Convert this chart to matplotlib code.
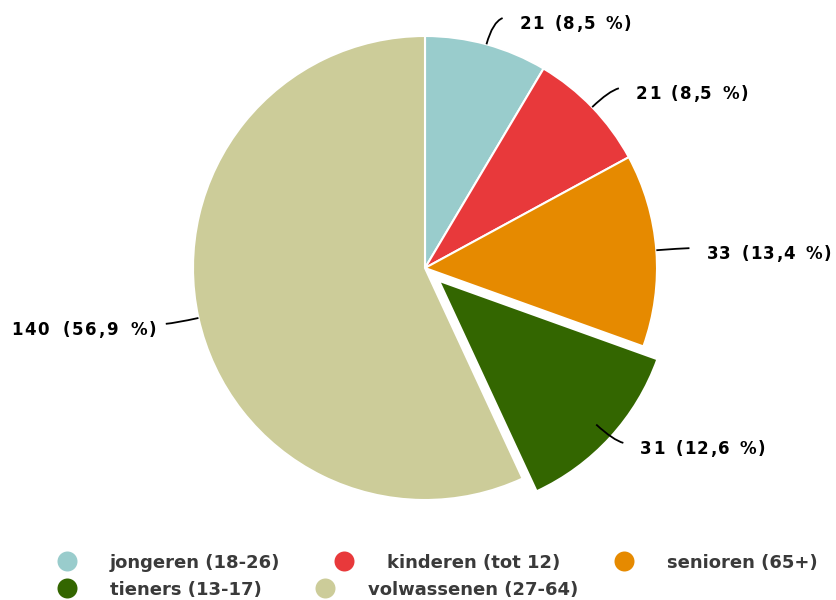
import numpy as np
import matplotlib
matplotlib.use("Agg")
import matplotlib.pyplot as plt
from matplotlib.path import Path
from matplotlib.patches import PathPatch
from matplotlib.font_manager import FontProperties
from matplotlib.textpath import TextToPath

categories = ["jongeren (18-26)", "kinderen (tot 12)", "senioren (65+)",
              "tieners (13-17)", "volwassenen (27-64)"]
values = [21, 21, 33, 31, 140]
colors = ["#99cccc", "#e8393b", "#e68a00", "#336600", "#cccc99"]
explode_px = [0, 0, 0, 19, 0]

W, H = 837, 600
fig = plt.figure(figsize=(W / 100, H / 100), dpi=100)
ax = fig.add_axes([0, 0, 1, 1])

cx, cy, r = 425, 332, 232
total = sum(values)

wedges, _ = ax.pie(values, colors=colors, startangle=90, counterclock=False,
                   radius=r, center=(cx, cy), explode=explode_px,
                   wedgeprops=dict(edgecolor="white", linewidth=1.5),
                   frame=True)
ax.set_xlim(0, W)
ax.set_ylim(0, H)
ax.set_aspect("equal")
ax.axis("off")

lab_prop = FontProperties(family="DejaVu Sans", weight="bold", size=12)
leg_prop = FontProperties(family="DejaVu Sans", weight="bold", size=13)
t2p = TextToPath()


def text_width(s, prop):
    if not s:
        return 0.0
    w, _, _ = t2p.get_text_width_height_descent(s, prop, ismath=False)
    return w * 100 / 72


def spaced_text(x, y, s, prop, align="left", track=1.0, space_extra=2.0):
    # draw a string char by char with extra letter spacing (pixel units)
    offs = [text_width(s[:k], prop) + k * track + s[:k].count(" ") * space_extra
            for k in range(len(s))]
    tot = text_width(s, prop) + (len(s) - 1) * track + s.count(" ") * space_extra
    x0 = x if align == "left" else x - tot
    for ch, o in zip(s, offs):
        if ch != " ":
            ax.text(x0 + o, y, ch, ha="left", va="baseline",
                    fontproperties=prop, color="black")


# labels with curved leader lines (start at unexploded rim)
for w, v in zip(wedges, values):
    a = np.deg2rad((w.theta1 + w.theta2) / 2)
    p0 = (cx + r * np.cos(a), cy + r * np.sin(a))
    p1 = (cx + 1.1 * r * np.cos(a), cy + 1.1 * r * np.sin(a))
    side = 1 if np.cos(a) >= 0 else -1
    p2 = (p1[0] + side * 10, p1[1] + 4 * np.sin(a))
    path = Path([p0, p1, p2], [Path.MOVETO, Path.CURVE3, Path.CURVE3])
    ax.add_patch(PathPatch(path, fill=False, edgecolor="black", lw=1.3))
    pct = f"{100 * v / total:.1f}".replace(".", ",")
    label = f"{v} ({pct} %)"
    if side > 0:
        spaced_text(p2[0] + 17, p2[1] - 11, label, lab_prop, "left",
                    track=1.3, space_extra=2.0)
    else:
        spaced_text(p2[0] - 9, p2[1] - 11, label, lab_prop, "right",
                    track=1.6, space_extra=4.5)

# legend in a flowing layout
rows = [[0, 1, 2], [3, 4]]
row_y = [H - 561, H - 588]
for row, yy in zip(rows, row_y):
    x = 67
    for i in row:
        ax.plot([x], [yy], "o", ms=14.4, color=colors[i], mec="none",
                clip_on=False)
        ax.text(x + 43, yy - 7, categories[i], ha="left", va="baseline",
                fontproperties=leg_prop, color="#3a3a3a")
        x = x + 43 + text_width(categories[i], leg_prop) + 63

fig.savefig("out.png", dpi=100)
